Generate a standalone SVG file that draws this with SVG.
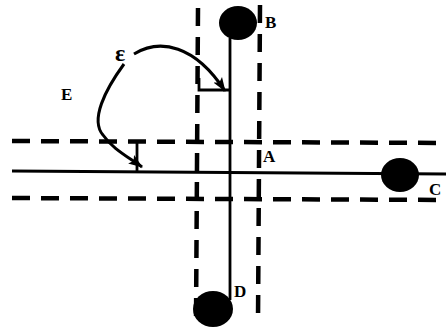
<svg xmlns="http://www.w3.org/2000/svg" width="446" height="327" viewBox="0 0 446 327">
<style>
.dash{fill:none;stroke:#000;stroke-width:4.5;stroke-dasharray:18 11}
.solid{fill:none;stroke:#000;stroke-width:2.8}
.arc{fill:none;stroke:#000;stroke-width:3}
.lbl{font-family:"Liberation Serif",serif;font-size:17px;font-weight:bold;fill:#000}
.eps{font-family:"Liberation Serif",serif;font-size:24px;font-weight:bold;fill:#000}
.dot{fill:#000}
</style>
<defs>
<marker id="ah" viewBox="0 0 14 10" refX="13" refY="5" markerWidth="4.8" markerHeight="3.6" orient="auto" markerUnits="strokeWidth">
<path d="M0,0 L14,5 L0,10 L3,5 z" fill="#000"/>
</marker>
</defs>
<g id="guides">
<line class="dash" x1="12" y1="141" x2="446" y2="143"/>
<line class="dash" x1="12" y1="198" x2="446" y2="200"/>
<line class="dash" x1="198" y1="8" x2="196" y2="322"/>
<line class="dash" x1="260" y1="5" x2="258" y2="322"/>
</g>
<g id="connectors">
<line class="solid" x1="12" y1="171" x2="446" y2="174"/>
<line class="solid" x1="230" y1="38" x2="230" y2="300"/>
<path class="solid" d="M199,78 L199,90 L230,90"/>
<path class="solid" d="M137,143 L137,171"/>
<path class="arc" d="M134,54 C160,38 195,45 225,91" marker-end="url(#ah)"/>
<path class="arc" d="M124,64 C105,90 90,120 103,135 C112,148 125,155 142,167" marker-end="url(#ah)"/>
</g>
<g id="node-B"><ellipse class="dot" cx="238" cy="23" rx="19" ry="17"/><text class="lbl" x="265" y="28">B</text></g>
<g id="node-A"><text class="lbl" x="263" y="162">A</text></g>
<g id="node-C"><ellipse class="dot" cx="400" cy="175" rx="19" ry="17"/><text class="lbl" x="429" y="195">C</text></g>
<g id="node-D"><ellipse class="dot" cx="213" cy="309" rx="20" ry="18"/><text class="lbl" x="234" y="297">D</text></g>
<g id="label-E"><text class="lbl" x="61" y="100">E</text></g>
<g id="label-eps"><text class="eps" x="115" y="61">ε</text></g>
</svg>
